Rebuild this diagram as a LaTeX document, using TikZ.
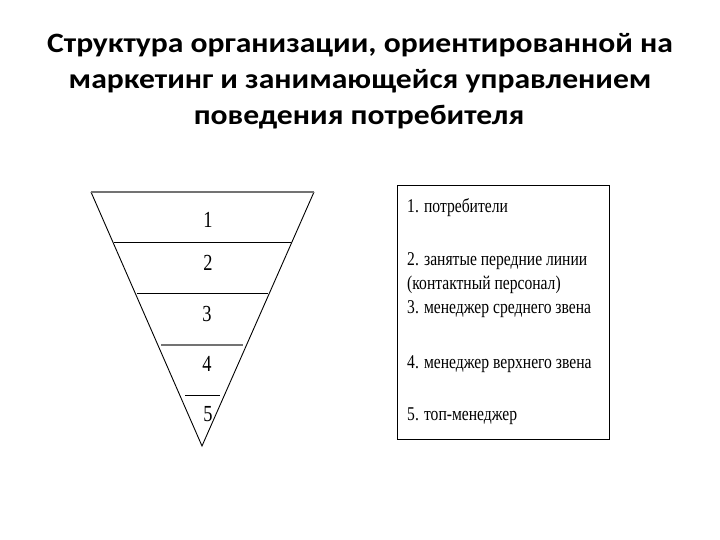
\documentclass[tikz,border=0pt]{standalone}
\usepackage{fontspec}
\setmainfont{Liberation Serif}
\newfontfamily\titlefont[FakeStretch=1.13]{Carlito}
\newfontfamily\condfont[FakeStretch=0.8]{Liberation Serif}
\begin{document}
\begin{tikzpicture}[x=1pt,y=-1pt,
  ttl/.style={font=\titlefont\bfseries\fontsize{28}{34}\selectfont, anchor=base, inner sep=0},
  num/.style={font=\condfont\fontsize{23}{26}\selectfont, anchor=base, inner sep=0},
  item/.style={font=\condfont\fontsize{19.5}{22}\selectfont, anchor=base west, inner sep=0},
  tier/.style={line width=0.9pt, black},
  tiergrey/.style={line width=2pt, black!55}]
\useasboundingbox (0,0) rectangle (720,540);
% title
\node[ttl] (t1) at (360,53) {Структура организации, ориентированной на};
\node[ttl] (t2) at (360,89) {маркетинг и занимающейся управлением};
\node[ttl] (t3) at (359,125) {поведения потребителя};
% triangle
\coordinate (tl) at (91,192);
\coordinate (tr) at (314,192);
\coordinate (ap) at (202,446);
\draw[line width=0.9pt] (tl) -- (ap) -- (tr);
\draw[tiergrey] (tl) -- (tr);
\coordinate (l1a) at (114,242); \coordinate (l1b) at (291,242);
\coordinate (l2a) at (137,293); \coordinate (l2b) at (268,293);
\coordinate (l3a) at (161,345); \coordinate (l3b) at (243,345);
\coordinate (l4a) at (185,395); \coordinate (l4b) at (220,395);
\draw[tier] (l1a) -- (l1b);
\draw[tier] (l2a) -- (l2b);
\draw[tiergrey, line width=1.6pt] (l3a) -- (l3b);
\draw[tier] (l4a) -- (l4b);
\node[num] (n1) at (208,227) {1};
\node[num] (n2) at (208,270) {2};
\node[num] (n3) at (207,321) {3};
\node[num] (n4) at (207,371) {4};
\node[num] (n5) at (208,421) {5};
% legend box
\node[draw, line width=1pt, minimum width=212pt, minimum height=254pt, inner sep=0, anchor=north west] (box) at (397,185) {};
\node[item] (i1) at (407,212) {1. потребители};
\node[item] (i2) at (407,265) {2. занятые передние линии};
\node[item] (i2b) at (407,289) {(контактный персонал)};
\node[item] (i3) at (407,313) {3. менеджер среднего звена};
\node[item] (i4) at (407,368) {4. менеджер верхнего звена};
\node[item] (i5) at (407,420) {5. топ-менеджер};
\end{tikzpicture}
\end{document}
